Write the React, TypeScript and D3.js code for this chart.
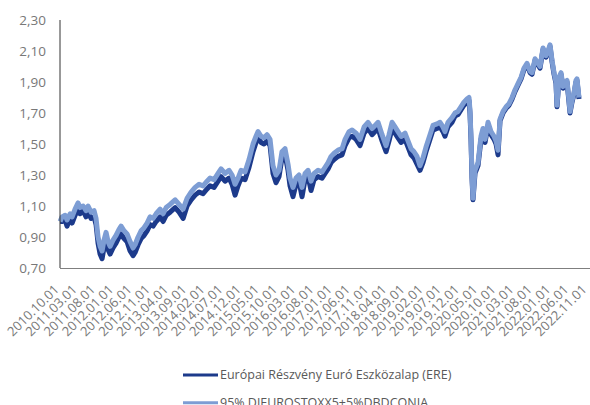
import * as d3 from 'd3'

// decimal years
const times = [
  2010.750, 2010.796, 2010.864, 2010.910, 2010.979, 2011.025, 2011.093, 2011.162, 2011.208, 2011.277,
  2011.345, 2011.391, 2011.460, 2011.528, 2011.574,
  2011.620, 2011.666, 2011.712, 2011.757, 2011.803, 2011.849, 2011.895, 2011.963, 2012.032, 2012.101,
  2012.147, 2012.215, 2012.284, 2012.353, 2012.421, 2012.467, 2012.536, 2012.604, 2012.673, 2012.742,
  2012.810, 2012.879, 2012.948, 2013.039, 2013.108, 2013.177, 2013.268, 2013.383, 2013.474, 2013.566,
  2013.657, 2013.749, 2013.841, 2013.932, 2014.024, 2014.115, 2014.184, 2014.276, 2014.367, 2014.436,
  2014.527, 2014.619, 2014.688, 2014.756, 2014.825,
  2014.894, 2014.985, 2015.077, 2015.168, 2015.237, 2015.283, 2015.352, 2015.420, 2015.489, 2015.558,
  2015.626, 2015.695, 2015.764, 2015.832, 2015.901, 2015.970, 2016.016, 2016.084, 2016.153, 2016.222,
  2016.290, 2016.359, 2016.428, 2016.496, 2016.565, 2016.657, 2016.748, 2016.817, 2016.886, 2016.954,
  2017.023, 2017.114, 2017.206, 2017.275, 2017.366, 2017.435, 2017.527, 2017.618, 2017.710, 2017.801,
  2017.893, 2017.962, 2018.030, 2018.122, 2018.213, 2018.282, 2018.351, 2018.419, 2018.488, 2018.557,
  2018.648, 2018.717, 2018.786, 2018.854, 2018.923,
  2018.992, 2019.060, 2019.129, 2019.221, 2019.289, 2019.381, 2019.450, 2019.518, 2019.564, 2019.633,
  2019.724, 2019.793, 2019.862, 2019.930, 2019.999, 2020.068, 2020.114, 2020.136, 2020.159, 2020.182,
  2020.205, 2020.251, 2020.320, 2020.388, 2020.434, 2020.480, 2020.549, 2020.617, 2020.686, 2020.732,
  2020.777,
  2020.823, 2020.892, 2020.961, 2021.029, 2021.098, 2021.167, 2021.235, 2021.304, 2021.373, 2021.441,
  2021.510, 2021.556, 2021.625, 2021.693, 2021.739, 2021.808, 2021.876, 2021.922, 2021.968, 2022.014,
  2022.060, 2022.105, 2022.128, 2022.174, 2022.220, 2022.266, 2022.311, 2022.357, 2022.403, 2022.426,
  2022.472, 2022.517, 2022.563, 2022.586, 2022.632,
]

// 95% DJEUROSTOXX5+5%DBDCONIA
const benchmark = [
  1.00, 1.03, 1.04, 1.01, 1.05, 1.03, 1.08, 1.12, 1.09, 1.10, 1.07, 1.10, 1.06, 1.07, 1.02,
  0.90, 0.84, 0.81, 0.88, 0.93, 0.87, 0.84, 0.88, 0.91, 0.95, 0.97, 0.94, 0.92, 0.87, 0.83,
  0.85, 0.90, 0.94, 0.96, 0.99, 1.03, 1.02, 1.05, 1.08, 1.05, 1.09, 1.11, 1.14, 1.11, 1.08,
  1.15, 1.19, 1.22, 1.24, 1.23, 1.26, 1.28, 1.27, 1.31, 1.34, 1.31, 1.33, 1.30, 1.24, 1.28,
  1.33, 1.32, 1.40, 1.50, 1.55, 1.58, 1.55, 1.54, 1.56, 1.53, 1.36, 1.30, 1.33, 1.45, 1.47,
  1.37, 1.28, 1.22, 1.28, 1.30, 1.22, 1.31, 1.33, 1.26, 1.31, 1.33, 1.32, 1.35, 1.38, 1.42,
  1.44, 1.46, 1.47, 1.53, 1.58, 1.59, 1.57, 1.53, 1.61, 1.64, 1.60, 1.62, 1.64, 1.56, 1.49,
  1.56, 1.64, 1.61, 1.58, 1.55, 1.57, 1.52, 1.47, 1.45, 1.42,
  1.36, 1.41, 1.48, 1.56, 1.62, 1.63, 1.64, 1.61, 1.58, 1.64, 1.67, 1.70, 1.71, 1.74, 1.77,
  1.79, 1.80, 1.72, 1.55, 1.30, 1.15, 1.33, 1.38, 1.55, 1.60, 1.53, 1.64, 1.58, 1.55, 1.52,
  1.46,
  1.66, 1.71, 1.74, 1.76, 1.80, 1.85, 1.89, 1.93, 1.99, 2.02, 1.97, 1.96, 2.05, 2.02, 2.00,
  2.12, 2.07, 2.10, 2.14, 2.04, 1.96, 1.90, 1.75, 1.93, 1.96, 1.87, 1.90, 1.91, 1.78, 1.71,
  1.78, 1.83, 1.91, 1.92, 1.80,
]

// Európai Részvény Euró Eszközalap (ERE)
const fund = [
  1.00, 1.00, 1.01, 0.97, 1.02, 0.99, 1.04, 1.08, 1.05, 1.07, 1.03, 1.06, 1.02, 1.03, 0.98,
  0.86, 0.79, 0.76, 0.83, 0.88, 0.82, 0.79, 0.83, 0.86, 0.90, 0.92, 0.89, 0.87, 0.81, 0.78,
  0.80, 0.85, 0.89, 0.91, 0.94, 0.98, 0.97, 1.00, 1.03, 1.00, 1.04, 1.06, 1.09, 1.06, 1.02,
  1.10, 1.14, 1.17, 1.19, 1.18, 1.21, 1.23, 1.22, 1.26, 1.29, 1.26, 1.28, 1.24, 1.17, 1.23,
  1.28, 1.27, 1.35, 1.45, 1.51, 1.54, 1.51, 1.50, 1.52, 1.49, 1.31, 1.25, 1.29, 1.41, 1.43,
  1.33, 1.23, 1.16, 1.24, 1.26, 1.16, 1.27, 1.29, 1.20, 1.27, 1.29, 1.28, 1.31, 1.34, 1.38,
  1.40, 1.42, 1.43, 1.49, 1.54, 1.55, 1.53, 1.49, 1.57, 1.60, 1.56, 1.58, 1.60, 1.52, 1.45,
  1.52, 1.60, 1.57, 1.54, 1.51, 1.53, 1.48, 1.43, 1.41, 1.37,
  1.33, 1.38, 1.45, 1.53, 1.59, 1.60, 1.61, 1.58, 1.55, 1.61, 1.64, 1.68, 1.69, 1.72, 1.75,
  1.77, 1.78, 1.70, 1.53, 1.28, 1.14, 1.31, 1.36, 1.53, 1.58, 1.51, 1.62, 1.56, 1.53, 1.50,
  1.43,
  1.65, 1.70, 1.73, 1.75, 1.79, 1.84, 1.88, 1.92, 1.98, 2.01, 1.96, 1.95, 2.04, 2.01, 1.99,
  2.11, 2.06, 2.09, 2.13, 2.03, 1.95, 1.89, 1.74, 1.92, 1.95, 1.86, 1.89, 1.90, 1.77, 1.70,
  1.77, 1.82, 1.90, 1.91, 1.79,
]

const yTicks = [0.7, 0.9, 1.1, 1.3, 1.5, 1.7, 1.9, 2.1, 2.3]
const xTickCount = 30 // every 5 months from 2010.10.01
const seriesNames = ['Európai Részvény Euró Eszközalap (ERE)', '95% DJEUROSTOXX5+5%DBDCONIA']
const colors = ['#1c3a8b', '#7d9dd4']

const W = 590
const H = 405
const font = '"Open Sans", sans-serif'

function decToDate(t: number) {
  const y = Math.floor(t)
  const a = new Date(y, 0, 1).getTime()
  const b = new Date(y + 1, 0, 1).getTime()
  return new Date(a + (t - y) * (b - a))
}

export default function App() {
  const x = d3.scaleTime()
    .domain([new Date(2010, 9, 1), decToDate(2022.884)])
    .range([60, 590])
  const y = d3.scaleLinear().domain([0.7, 2.3]).range([268, 20])

  const n = Math.min(times.length, benchmark.length, fund.length)
  const rows = d3.range(n).map(i => ({ t: decToDate(times[i]), b: benchmark[i], f: fund[i] }))

  const lineF = d3.line<any>().x(d => x(d.t)).y(d => y(d.f))
  const lineB = d3.line<any>().x(d => x(d.t)).y(d => y(d.b))

  const xTicks = d3.range(xTickCount).map(k => new Date(2010, 9 + 5 * k, 1))
  const fmtX = d3.timeFormat('%Y.%m.%d')
  const fmtY = (v: number) => v.toFixed(2).replace('.', ',')

  return (
    <svg width={W} height={H} style={{ display: 'block' }}>
      <style>{`body{margin:0}`}</style>
      <rect width={W} height={H} fill="#fff" />

      {yTicks.map(v => (
        <text key={v} x={46} y={y(v)} dy="0.35em" textAnchor="end"
          fontFamily={font} fontSize={13.5} fill="#787878">{fmtY(v)}</text>
      ))}

      {xTicks.map((d, i) => (
        <text key={i} transform={`translate(${x(d) - 3.5},${287}) rotate(-45)`} textAnchor="end"
          dy="0.35em" fontFamily={font} fontSize={13} fill="#787878">{fmtX(d)}</text>
      ))}

      <path d={lineF(rows) || ''} fill="none" stroke={colors[0]} strokeWidth={5} strokeLinejoin="round" />
      <path d={lineB(rows) || ''} fill="none" stroke={colors[1]} strokeWidth={5} strokeLinejoin="round" />

      <line x1={60} x2={60} y1={20} y2={268} stroke="#333" strokeWidth={1} />
      <line x1={60} x2={590} y1={268.5} y2={268.5} stroke="#7f7f7f" strokeWidth={1} />

      {seriesNames.map((name, i) => (
        <g key={name} transform={`translate(183,${375 + i * 27.7})`}>
          <line x1={0} x2={35} y1={0} y2={0} stroke={colors[i]} strokeWidth={3} />
          <text x={37} y={0} dy="0.35em" fontFamily={font} fontSize={12.5} fill="#595959">{name}</text>
        </g>
      ))}
    </svg>
  )
}
